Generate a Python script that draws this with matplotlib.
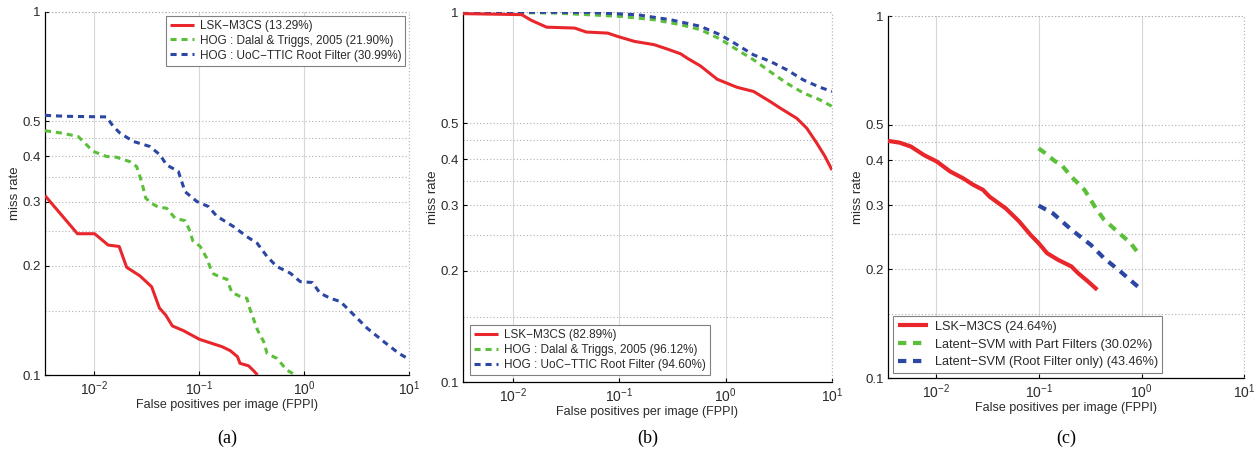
import numpy as np
import matplotlib
matplotlib.use("Agg")
import matplotlib.pyplot as plt
from matplotlib.ticker import FixedLocator, FuncFormatter, NullFormatter

plt.rcParams['font.family'] = ['Liberation Sans', 'DejaVu Sans']
plt.rcParams['mathtext.default'] = 'regular'

# ---------------- data ----------------
# Panel (a)
a_red_x = [0.0034, 0.00693, 0.0101, 0.0136, 0.0173, 0.0204, 0.0273, 0.0353, 0.0418, 0.048, 0.0556,
           0.0708, 0.1007, 0.137, 0.165, 0.198, 0.232, 0.245, 0.296, 0.33, 0.36]
a_red_y = [0.312, 0.245, 0.245, 0.228, 0.226, 0.198, 0.1875, 0.175, 0.153, 0.1463, 0.1365,
           0.1325, 0.1254, 0.1218, 0.1197, 0.1167, 0.1123, 0.1077, 0.106, 0.1028, 0.1]
a_green_x = [0.0034, 0.00488, 0.00703, 0.0098, 0.0131, 0.0163, 0.0219, 0.0254, 0.0283, 0.031, 0.0353,
             0.0409, 0.049, 0.059, 0.0734, 0.0809, 0.0869, 0.1024, 0.118, 0.130, 0.137, 0.159, 0.184,
             0.205, 0.242, 0.285, 0.307, 0.36, 0.412, 0.444, 0.55, 0.687, 0.82]
a_green_y = [0.471, 0.464, 0.454, 0.413, 0.400, 0.398, 0.387, 0.375, 0.341, 0.307, 0.297,
             0.290, 0.288, 0.2704, 0.266, 0.251, 0.2345, 0.226, 0.210, 0.1948, 0.190, 0.186, 0.1836,
             0.1687, 0.165, 0.1627, 0.151, 0.133, 0.1235, 0.1147, 0.1111, 0.1032, 0.1]
a_blue_x = [0.0034, 0.00544, 0.0131, 0.0152, 0.0176, 0.0236, 0.034, 0.0424, 0.049, 0.0634, 0.0734,
            0.0951, 0.123, 0.147, 0.2126, 0.285, 0.357, 0.444, 0.55, 0.74, 0.92, 1.2, 1.42, 1.78,
            2.22, 2.77, 4.0, 5.76, 8.0, 10.0]
a_blue_y = [0.519, 0.516, 0.514, 0.484, 0.464, 0.440, 0.426, 0.404, 0.379, 0.3637, 0.320,
            0.3006, 0.291, 0.274, 0.2564, 0.2405, 0.2307, 0.212, 0.199, 0.1907, 0.1808, 0.1798, 0.168, 0.1627,
            0.1593, 0.1495, 0.1345, 0.1235, 0.1147, 0.1105]
a_labels = ["LSK\u2212M3CS (13.29%)", "HOG : Dalal & Triggs, 2005 (21.90%)",
            "HOG : UoC\u2212TTIC Root Filter (30.99%)"]

# Panel (b)
b_red_x = [0.0034, 0.0121, 0.0150, 0.0208, 0.0382, 0.049, 0.078, 0.0968, 0.139, 0.2135, 0.284, 0.378,
           0.437, 0.58, 0.835, 1.28, 1.83, 2.62, 3.26, 4.67, 5.8, 7.2, 8.6, 10.0]
b_red_y = [0.99, 0.984, 0.949, 0.91, 0.905, 0.883, 0.877, 0.859, 0.833, 0.816, 0.794, 0.771,
           0.75, 0.715, 0.658, 0.626, 0.61, 0.573, 0.55, 0.516, 0.485, 0.442, 0.407, 0.374]
b_green_x = [0.0034, 0.0249, 0.104, 0.2135, 0.378, 0.58, 0.89, 1.28, 1.83, 2.62, 3.76, 5.4, 7.7, 10.0]
b_green_y = [0.999, 0.994, 0.973, 0.953, 0.924, 0.896, 0.845, 0.791, 0.743, 0.69, 0.642, 0.604, 0.579, 0.556]
b_blue_x = [0.0034, 0.051, 0.149, 0.305, 0.58, 0.89, 1.28, 1.83, 2.62, 3.76, 5.4, 7.7, 10.0]
b_blue_y = [1.0, 0.998, 0.983, 0.953, 0.915, 0.868, 0.816, 0.766, 0.736, 0.698, 0.655, 0.626, 0.61]
b_labels = ["LSK\u2212M3CS (82.89%)", "HOG : Dalal & Triggs, 2005 (96.12%)",
            "HOG : UoC\u2212TTIC Root Filter (94.60%)"]

# Panel (c)
c_red_x = [0.0034, 0.0044, 0.00568, 0.00762, 0.0102, 0.0137, 0.0184, 0.0229, 0.0286, 0.0331, 0.0477,
           0.0641, 0.0829, 0.0995, 0.12, 0.154, 0.207, 0.24, 0.30, 0.37]
c_red_y = [0.452, 0.447, 0.436, 0.413, 0.396, 0.372, 0.356, 0.342, 0.331, 0.317, 0.294,
           0.271, 0.2486, 0.2358, 0.2213, 0.212, 0.2034, 0.195, 0.1849, 0.1753]
c_green_x = [0.0995, 0.115, 0.142, 0.166, 0.207, 0.278, 0.359, 0.43, 0.58, 0.78, 0.98]
c_green_y = [0.431, 0.418, 0.398, 0.388, 0.36, 0.331, 0.294, 0.274, 0.254, 0.236, 0.2167]
c_blue_x = [0.0995, 0.137, 0.207, 0.32, 0.43, 0.62, 0.98]
c_blue_y = [0.2995, 0.285, 0.257, 0.2333, 0.2144, 0.197, 0.176]
c_labels = ["LSK\u2212M3CS (24.64%)", "Latent\u2212SVM with Part Filters (30.02%)",
            "Latent\u2212SVM (Root Filter only) (43.46%)"]

x_ticks = [0.01, 0.1, 1, 10]
y_ticks = [0.1, 0.2, 0.3, 0.4, 0.5, 1.0]
y_minor = [0.15, 0.25, 0.35, 0.45]
panel_names = ["(a)", "(b)", "(c)"]

RED = "#e8262b"
GREEN = "#5cbf3a"
BLUE = "#2b46a3"
TXT = "#2a2a2a"

fig = plt.figure(figsize=(12.57, 4.49), dpi=100)

positions = [
    [0.0358, 0.1648, 0.2896, 0.8085],
    [0.3683, 0.1492, 0.2936, 0.8240],
    [0.7064, 0.1581, 0.2836, 0.8062],
]

panels = [
    (a_red_x, a_red_y, a_green_x, a_green_y, a_blue_x, a_blue_y, a_labels, "upper right", 2.2),
    (b_red_x, b_red_y, b_green_x, b_green_y, b_blue_x, b_blue_y, b_labels, "lower left", 2.2),
    (c_red_x, c_red_y, c_green_x, c_green_y, c_blue_x, c_blue_y, c_labels, "lower left", 3.0),
]
legend_styles = [
    dict(fontsize=8.5, handlelength=2.0, labelspacing=0.25, borderaxespad=0.3),
    dict(fontsize=8.5, handlelength=2.0, labelspacing=0.25, borderaxespad=0.6),
    dict(fontsize=9.2, handlelength=2.4, labelspacing=0.45, borderaxespad=0.4),
]

def xfmt(v, pos):
    e = int(round(np.log10(v)))
    return r'$10^{%d}$' % e

def yfmt(v, pos):
    if abs(v - 1.0) < 1e-9:
        return "1"
    return "%.1f" % v

for i, (pos, p) in enumerate(zip(positions, panels)):
    rx, ry, gx, gy, bx, by, labels, loc, lw = p
    ax = fig.add_axes(pos)
    ax.set_xscale('log')
    ax.set_yscale('log')
    ax.set_xlim(0.0034, 10)
    ax.set_ylim(0.1, 1)

    ax.plot(rx, ry, color=RED, lw=lw, solid_capstyle='butt', label=labels[0], zorder=5)
    ax.plot(gx, gy, color=GREEN, lw=lw, dashes=(2.0, 1.6), label=labels[1], zorder=4)
    ax.plot(bx, by, color=BLUE, lw=lw, dashes=(2.0, 1.6), label=labels[2], zorder=4)

    ax.xaxis.set_major_locator(FixedLocator(x_ticks))
    ax.xaxis.set_major_formatter(FuncFormatter(xfmt))
    ax.xaxis.set_minor_locator(FixedLocator([]))
    ax.yaxis.set_major_locator(FixedLocator(y_ticks))
    ax.yaxis.set_major_formatter(FuncFormatter(yfmt))
    ax.yaxis.set_minor_locator(FixedLocator(y_minor))
    ax.yaxis.set_minor_formatter(NullFormatter())

    ax.tick_params(axis='both', which='major', direction='in', length=3, width=0.8,
                   labelsize=9.5, pad=3, labelcolor=TXT)
    ax.tick_params(axis='y', which='minor', length=0)
    ax.tick_params(axis='x', which='major', labelsize=10)

    ax.grid(True, axis='x', which='major', color='#d8d8d8', lw=0.8, ls='-')
    ax.grid(True, axis='y', which='both', color='#b0b0b0', lw=0.8, ls=(0, (1, 2)))

    for s in ['top', 'right']:
        ax.spines[s].set_visible(False)
    ax.axhline(1.0, color='#b0b0b0', lw=0.8, ls=(0, (1, 2)), clip_on=False)
    ax.axvline(10, color='#b0b0b0', lw=0.8, ls=(0, (1, 2)), clip_on=False)
    ax.spines['left'].set_linewidth(0.9)
    ax.spines['bottom'].set_linewidth(0.9)

    ax.set_xlabel("False positives per image (FPPI)", fontsize=9, labelpad=1, color=TXT)
    ax.set_ylabel("miss rate", fontsize=9.5, labelpad=1, color=TXT)

    ls = legend_styles[i]
    leg = ax.legend(loc=loc, fontsize=ls['fontsize'], fancybox=False, framealpha=1,
                    edgecolor='#808080', handlelength=ls['handlelength'], handletextpad=0.5,
                    labelspacing=ls['labelspacing'], borderpad=0.35,
                    borderaxespad=ls['borderaxespad'])
    leg.get_frame().set_linewidth(0.8)
    for t in leg.get_texts():
        t.set_color(TXT)

    cx = pos[0] + pos[2] / 2
    fig.text(cx, 1 - 438 / 449, panel_names[i], ha='center', va='center', fontsize=13,
             family=['Liberation Serif', 'DejaVu Serif'])

fig.savefig("out.png", dpi=100)
